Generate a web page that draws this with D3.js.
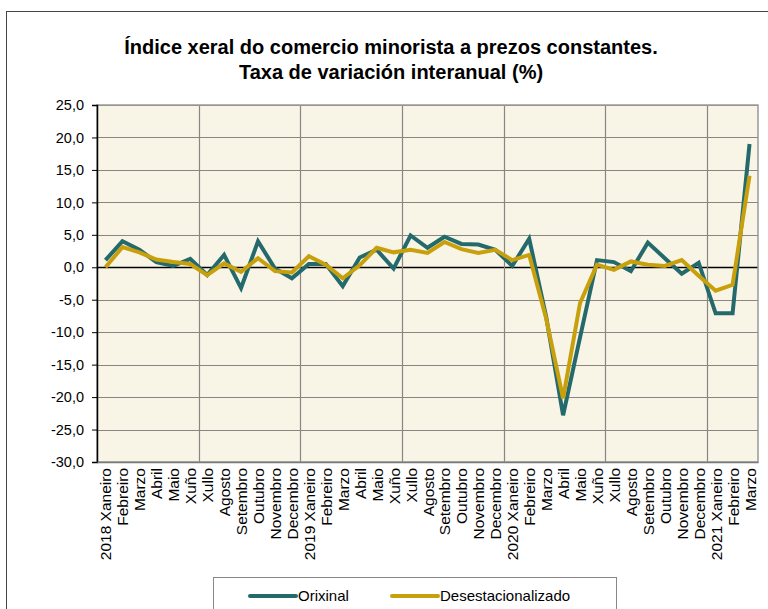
<!DOCTYPE html>
<html>
<head>
<meta charset="utf-8">
<script src="https://cdn.jsdelivr.net/npm/d3@7"></script>
<style>
  body { margin: 0; background: #fff; }
  svg { display: block; font-family: "Liberation Sans", Arial, sans-serif; }
</style>
</head>
<body>
<script>
var months = ["Xaneiro", "Febreiro", "Marzo", "Abril", "Maio", "Xuño",
              "Xullo", "Agosto", "Setembro", "Outubro", "Novembro", "Decembro"];

var categories = [];
[2018, 2019, 2020, 2021].forEach(function(year) {
    months.forEach(function(m, i) {
        if (year == 2021 && i > 2) return;
        categories.push(i == 0 ? year + " " + m : m);
    });
});

var orixinal = [1.1, 4.0, 2.7, 0.8, 0.2, 1.3, -1.2, 1.9, -3.2, 4.0, -0.2, -1.7,
                0.5, 0.5, -2.9, 1.5, 2.7, -0.2, 4.9, 3.0, 4.7, 3.6, 3.5, 2.7,
                0.2, 4.4, -7.6, -22.8, -10.8, 1.1, 0.8, -0.6, 3.8, 1.4, -1.0, 0.7,
                -7.1, -7.1, 19.0];

var desestacionalizado = [0.0, 3.1, 2.3, 1.2, 0.8, 0.5, -1.2, 0.6, -0.7, 1.4, -0.6, -0.8,
                          1.7, 0.4, -1.7, 0.3, 3.0, 2.3, 2.7, 2.2, 3.9, 2.8, 2.2, 2.7,
                          1.1, 1.9, -7.9, -20.2, -5.5, 0.4, -0.4, 0.9, 0.4, 0.2, 1.1, -1.3,
                          -3.6, -2.7, 14.1];

var yTicks = [25, 20, 15, 10, 5, 0, -5, -10, -15, -20, -25, -30];

var width = 768, height = 609;
var plotLeft = 97, plotRight = 758, plotTop = 105, plotBottom = 462;

var svg = d3.select("body").append("svg")
    .attr("width", width)
    .attr("height", height);

// outer frame
svg.append("rect")
    .attr("x", 6.5).attr("y", 11.5)
    .attr("width", 780).attr("height", 620)
    .attr("fill", "none")
    .attr("stroke", "#444")
    .attr("stroke-width", 1);

// title
var title = svg.append("text")
    .attr("text-anchor", "middle")
    .attr("font-weight", "bold")
    .attr("font-size", 20)
    .attr("fill", "#000");
title.append("tspan").attr("x", 391).attr("y", 54)
    .text("Índice xeral do comercio minorista a prezos constantes.");
title.append("tspan").attr("x", 391).attr("y", 79)
    .text("Taxa de variación interanual (%)");

var x = d3.scaleBand()
    .domain(d3.range(categories.length))
    .range([plotLeft, plotRight])
    .padding(0);

var y = d3.scaleLinear()
    .domain([-30, 25])
    .range([plotBottom, plotTop]);

function cx(d, i) { return x(i) + x.bandwidth() / 2; }

// plot background
svg.append("rect")
    .attr("x", plotLeft).attr("y", plotTop)
    .attr("width", plotRight - plotLeft).attr("height", plotBottom - plotTop)
    .attr("fill", "#f8f4e6");

// horizontal grid
svg.append("g").selectAll("line")
    .data(yTicks)
    .enter()
        .append("line")
        .attr("x1", plotLeft).attr("x2", plotRight)
        .attr("y1", function(d) { return Math.round(y(d)) + 0.5; })
        .attr("y2", function(d) { return Math.round(y(d)) + 0.5; })
        .attr("stroke", function(d) { return d == 0 ? "#000" : "#8a8580"; })
        .attr("stroke-width", function(d) { return d == 0 ? 1.5 : 1.2; });

// vertical grid every 6 months
var vLines = d3.range(6, categories.length, 6);
svg.append("g").selectAll("line")
    .data(vLines)
    .enter()
        .append("line")
        .attr("x1", function(d) { return Math.round(x(d)) + 0.5; })
        .attr("x2", function(d) { return Math.round(x(d)) + 0.5; })
        .attr("y1", plotTop).attr("y2", plotBottom)
        .attr("stroke", "#8a8580")
        .attr("stroke-width", 1.2);

// plot frame
svg.append("rect")
    .attr("x", plotLeft).attr("y", plotTop)
    .attr("width", plotRight - plotLeft).attr("height", plotBottom - plotTop)
    .attr("fill", "none")
    .attr("stroke", "#9a9a9a")
    .attr("stroke-width", 1.5);

// y axis
var yAxis = svg.append("g")
    .attr("transform", "translate(" + plotLeft + ",0)")
    .call(d3.axisLeft(y)
        .tickValues(yTicks)
        .tickSize(5)
        .tickPadding(8)
        .tickFormat(function(d) { return d3.format(".1f")(d).replace(".", ",").replace("−", "-"); }));
yAxis.select(".domain").attr("stroke", "#000").attr("stroke-width", 1.5);
yAxis.selectAll(".tick line").attr("stroke", "#000");
yAxis.selectAll("text")
    .attr("font-size", 14.5)
    .attr("font-family", "Liberation Sans, Arial, sans-serif")
    .attr("fill", "#000");

// x axis labels
var xAxis = svg.append("g")
    .attr("transform", "translate(0," + plotBottom + ")")
    .call(d3.axisBottom(x).tickSize(0).tickPadding(0)
        .tickFormat(function(i) { return categories[i]; }));
xAxis.select(".domain").attr("stroke", "#7a7a7a").attr("stroke-width", 1.5);
xAxis.selectAll("text")
    .attr("font-size", 15.5)
    .attr("font-family", "Liberation Sans, Arial, sans-serif")
    .attr("fill", "#000")
    .attr("text-anchor", "end")
    .attr("dy", null)
    .attr("transform", "translate(6,6) rotate(-90)");

// lines
var line = d3.line()
    .x(function(d, i) { return cx(d, i); })
    .y(function(d) { return y(d); });

svg.append("path")
    .datum(orixinal)
    .attr("d", line)
    .attr("fill", "none")
    .attr("stroke", "#246a6c")
    .attr("stroke-width", 4)
    .attr("stroke-linejoin", "miter");

svg.append("path")
    .datum(desestacionalizado)
    .attr("d", line)
    .attr("fill", "none")
    .attr("stroke", "#c8a00c")
    .attr("stroke-width", 4)
    .attr("stroke-linejoin", "miter");

// legend
var legend = svg.append("g");
legend.append("rect")
    .attr("x", 213.5).attr("y", 577.5)
    .attr("width", 403).attr("height", 60)
    .attr("fill", "#fff")
    .attr("stroke", "#888")
    .attr("stroke-width", 1);

var legendItems = [
    { name: "Orixinal", color: "#246a6c", x: 250 },
    { name: "Desestacionalizado", color: "#c8a00c", x: 392 }
];
legend.selectAll("line.key")
    .data(legendItems)
    .enter()
        .append("line")
        .attr("x1", function(d) { return d.x; })
        .attr("x2", function(d) { return d.x + 46; })
        .attr("y1", 596).attr("y2", 596)
        .attr("stroke", function(d) { return d.color; })
        .attr("stroke-width", 4)
        .attr("stroke-linecap", "round");
legend.selectAll("text")
    .data(legendItems)
    .enter()
        .append("text")
        .attr("x", function(d) { return d.x + 48; })
        .attr("y", 601)
        .attr("font-size", 15)
        .attr("fill", "#000")
        .text(function(d) { return d.name; });
</script>
</body>
</html>
